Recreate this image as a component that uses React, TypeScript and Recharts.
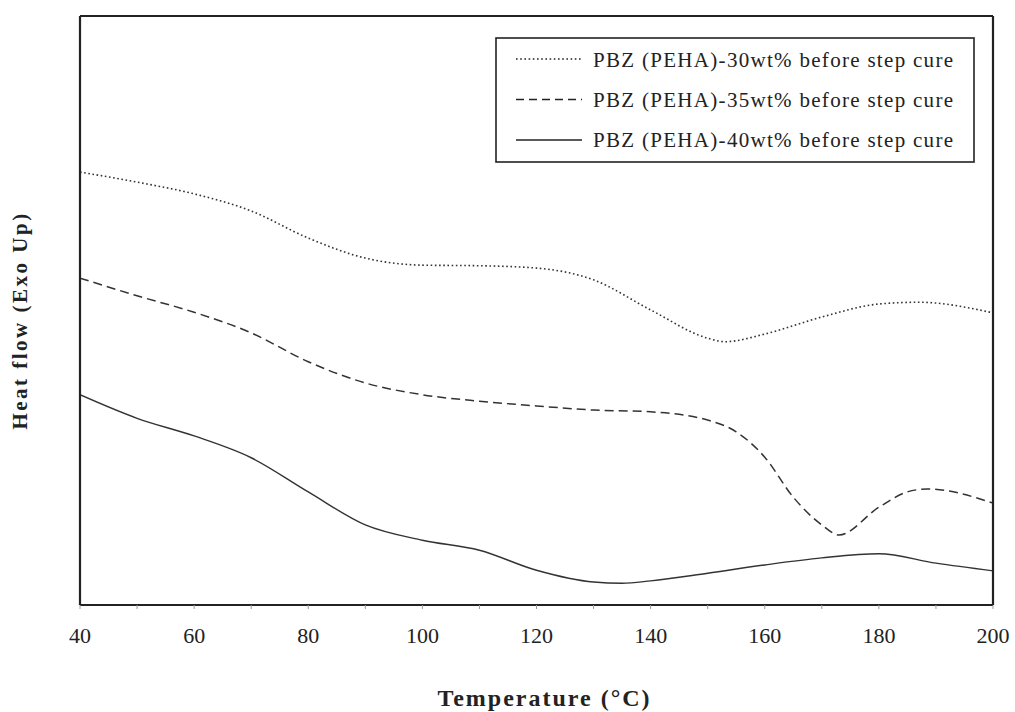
import React from 'react';
import { LineChart, Line, XAxis, YAxis, Legend } from 'recharts';

const temps30 = [40, 50, 60, 70, 80, 90, 100, 110, 120, 130, 140, 150, 153, 160, 170, 180, 187, 200];
const flow30 = [73.5, 71.8, 69.8, 66.9, 62.3, 58.9, 57.7, 57.6, 57.2, 55.2, 50.1, 45.3, 44.7, 46.0, 48.9, 51.1, 51.4, 49.6];

const temps35 = [40, 50, 60, 70, 80, 90, 100, 110, 120, 130, 140, 150, 155, 160, 165, 170, 173, 180, 185, 188.5, 200];
const flow35 = [55.5, 52.5, 49.7, 46.2, 41.3, 37.7, 35.7, 34.6, 33.8, 33.1, 32.8, 31.4, 29.4, 25.1, 18.3, 13.6, 11.9, 16.6, 19.2, 19.7, 17.3];

const temps40 = [40, 50, 60, 70, 80, 90, 100, 110, 120, 130, 135, 140, 150, 160, 170, 180, 190, 200];
const flow40 = [35.7, 31.7, 28.7, 25.0, 19.2, 13.6, 11.0, 9.3, 5.9, 3.9, 3.7, 4.1, 5.4, 6.8, 8.0, 8.7, 7.1, 5.8];

const seriesNames = [
  'PBZ (PEHA)-30wt% before step cure',
  'PBZ (PEHA)-35wt% before step cure',
  'PBZ (PEHA)-40wt% before step cure',
];
const xTicks = [40, 50, 60, 70, 80, 90, 100, 110, 120, 130, 140, 150, 160, 170, 180, 190, 200];

const toData = (t: number[], v: number[]) => t.map((x, i) => ({ t: x, v: v[i] }));
const data30 = toData(temps30, flow30);
const data35 = toData(temps35, flow35);
const data40 = toData(temps40, flow40);

const FONT = "'Liberation Serif', 'Times New Roman', serif";
const INK = '#222';
const dashes = ['1.6 2.6', '9 5', undefined];
const widths = [1.6, 1.5, 1.4];

const LegendBox = () => (
  <svg width={480} height={126} style={{ display: 'block' }}>
    <rect x={1} y={1} width={478} height={124} fill="#fff" stroke={INK} strokeWidth={1.6} />
    {seriesNames.map((n, i) => (
      <g key={n}>
        <line x1={21} x2={87} y1={22 + i * 40.5} y2={22 + i * 40.5} stroke={INK} strokeWidth={widths[i]} strokeDasharray={i === 1 ? '8 5' : dashes[i]} />
        <text x={98} y={30 + i * 40} fontFamily={FONT} fontSize={21} letterSpacing={1.3} fill={INK}>{n}</text>
      </g>
    ))}
  </svg>
);

export default function App() {
  return (
    <div style={{ position: 'absolute', left: 0, top: 0, width: 1015, height: 712, background: '#fff' }}>
      <LineChart width={1015} height={712} margin={{ top: 15, right: 21, left: 79, bottom: 0 }}>
        <XAxis
          xAxisId="bottom"
          dataKey="t"
          type="number"
          domain={[40, 200]}
          ticks={xTicks}
          interval={0}
          allowDataOverflow
          height={107}
          tickSize={4}
          tickMargin={18}
          tickFormatter={(v: number) => (v % 20 === 0 ? String(v) : '')}
          tick={{ fontFamily: FONT, fontSize: 22, fill: INK }}
          tickLine={{ stroke: '#999', strokeWidth: 1 }}
          axisLine={{ stroke: INK, strokeWidth: 2.2 }}
          label={{
            content: (p: any) => {
              const vb = p.viewBox || { x: 80, width: 913 };
              return (
                <text x={vb.x + vb.width / 2 + 8} y={706} textAnchor="middle" fontFamily={FONT} fontWeight="bold" fontSize={24} letterSpacing={2} fill={INK}>
                  Temperature (°C)
                </text>
              );
            },
          }}
        />
        <XAxis xAxisId="top" orientation="top" dataKey="t" type="number" domain={[40, 200]} height={1} tick={false} tickLine={false} axisLine={{ stroke: INK, strokeWidth: 2.2 }} />
        <YAxis
          yAxisId="left"
          type="number"
          domain={[0, 100]}
          width={1}
          tick={false}
          tickLine={false}
          axisLine={{ stroke: INK, strokeWidth: 2.2 }}
          label={{
            content: (p: any) => {
              const vb = p.viewBox || { y: 16, height: 589 };
              const cy = vb.y + vb.height / 2 + 10;
              return (
                <text x={27} y={cy} transform={`rotate(-90, 27, ${cy})`} textAnchor="middle" fontFamily={FONT} fontWeight="bold" fontSize={21} letterSpacing={2.5} fill={INK}>
                  Heat flow (Exo Up)
                </text>
              );
            },
          }}
        />
        <YAxis yAxisId="right" orientation="right" type="number" domain={[0, 100]} width={1} tick={false} tickLine={false} axisLine={{ stroke: INK, strokeWidth: 2.2 }} />
        <Legend
          layout="horizontal"
          verticalAlign="middle"
          align="center"
          wrapperStyle={{ position: 'absolute', left: 495, top: 37, width: 480, height: 126 }}
          content={() => <LegendBox />}
        />
        <Line xAxisId="bottom" yAxisId="left" data={data30} dataKey="v" name={seriesNames[0]} type="monotone" stroke="#333" strokeWidth={widths[0]} strokeDasharray={dashes[0]} dot={false} activeDot={false} isAnimationActive={false} />
        <Line xAxisId="bottom" yAxisId="left" data={data35} dataKey="v" name={seriesNames[1]} type="monotone" stroke="#333" strokeWidth={widths[1]} strokeDasharray={dashes[1]} dot={false} activeDot={false} isAnimationActive={false} />
        <Line xAxisId="bottom" yAxisId="left" data={data40} dataKey="v" name={seriesNames[2]} type="monotone" stroke="#333" strokeWidth={widths[2]} dot={false} activeDot={false} isAnimationActive={false} />
      </LineChart>
    </div>
  );
}
